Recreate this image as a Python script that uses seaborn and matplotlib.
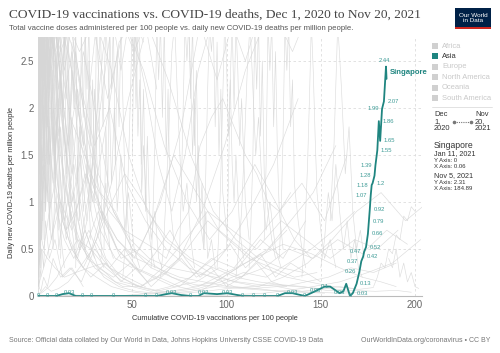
import numpy as np
import pandas as pd
import seaborn as sns
import matplotlib.pyplot as plt
from matplotlib.patches import Rectangle

# --------------------------------------
# Singapore (highlighted country)
# --------------------------------------
sg_x = [0.06, 4.8, 9.6, 13, 16.5, 20, 23.4, 28.2, 40, 57, 63, 68, 71, 76, 81, 85, 88, 95,
        100.5, 108.5, 114, 120, 127, 131, 135, 141.5, 147, 150, 152, 155, 160, 162, 163.5,
        165.5, 167, 169, 170.5, 171.5, 172.5, 173, 174, 175, 175.5, 176, 176.5, 177, 177.5,
        178.5, 179, 180, 180.8, 181.5, 182.5, 183.5, 184.6, 184.89]
sg_y = [0, 0, 0, 0.02, 0.03, 0, 0, 0, 0, 0, 0, 0.02, 0.03, 0.01, 0, 0, 0.03, 0.02,
        0.03, 0, 0, 0, 0, 0.03, 0.03, 0, 0.05, 0.08, 0.1, 0.1, 0.03, 0.05, 0.13,
        0, 0.03, 0.13, 0.26, 0.37, 0.42, 0.47, 0.52, 0.66, 0.79, 0.92, 1.07, 1.18, 1.2,
        1.28, 1.39, 1.55, 1.86, 1.65, 1.99, 2.07, 2.44, 2.31]
# where each value label goes (c = on line, l = left, r = right, t = top, "" = none)
sg_label_side = ["c", "c", "c", "", "c", "", "c", "c", "c", "c", "c", "", "c", "", "c", "", "c", "",
                 "c", "c", "c", "c", "c", "", "c", "c", "c", "", "c", "", "c", "", "",
                 "c", "r", "r", "l", "l", "r", "l", "r", "r", "r", "r", "l", "l", "r",
                 "l", "l", "r", "r", "r", "l", "r", "t", ""]

# --------------------------------------
# Other countries (grey background lines), grouped by region
# --------------------------------------
africa_x = [
    [0, 0.2, 0.5, 0.8, 1.2, 1.8, 2.5, 3.5, 5, 7, 10, 14],
    [0, 0.3, 0.6, 1, 1.5, 2, 3, 4, 6, 9, 13, 18, 24],
    [0, 0.4, 1, 1.6, 2.4, 3.4, 4.6, 6, 8, 11, 15, 20, 27, 35],
    [0, 1, 2, 3, 5, 7, 10, 14, 19, 25, 32, 40],
    [0, 0.5, 1.5, 3, 5, 8, 12, 17, 23, 30, 38, 47, 57],
    [0, 0.2, 0.4, 0.7, 1, 1.4, 1.9, 2.5, 3.2, 4, 5, 6.2, 7.5, 9, 11],
    [0, 0.3, 0.6, 0.9, 1.3, 1.8, 2.4, 3.1, 4, 5, 6.5, 8, 10, 12.5, 15, 18],
]
africa_y = [
    [0.1, 0.4, 0.2, 0.9, 0.5, 1.6, 0.8, 2.9, 1.2, 0.6, 1.0, 0.3],
    [0.0, 0.2, 0.1, 0.3, 0.2, 0.5, 0.3, 0.8, 0.4, 0.6, 0.2, 0.3, 0.1],
    [2.9, 1.4, 2.8, 0.9, 2.1, 1.3, 2.9, 0.7, 1.8, 0.5, 1.2, 0.4, 0.7, 0.3],
    [0.3, 1.1, 0.6, 2.0, 1.0, 2.9, 1.7, 0.8, 1.4, 0.5, 0.9, 0.4],
    [0.0, 0.1, 0.05, 0.2, 0.1, 0.4, 0.2, 0.3, 0.15, 0.5, 0.3, 0.2, 0.1],
    [1.8, 0.4, 2.9, 1.1, 2.5, 0.3, 2.9, 1.7, 0.6, 2.2, 2.9, 0.9, 2.4, 1.3, 2.9],
    [0.6, 2.9, 1.9, 2.9, 0.8, 1.6, 2.9, 2.1, 1.0, 2.7, 1.4, 0.5, 1.9, 1.0, 0.6, 0.9],
]

europe_x = [
    [0, 0.5, 1.5, 3, 5, 7, 9, 12, 15, 19, 24, 30, 37, 45, 54, 64, 75, 87, 100, 112, 125, 138],
    [0, 1, 2, 4, 6, 9, 13, 18, 24, 31, 40, 50, 60, 71, 82, 94, 106, 118, 130, 142],
    [0, 2, 4, 7, 10, 14, 18, 23, 29, 36, 44, 53, 63, 74, 86, 98, 110, 122, 134, 146, 158],
    [0, 1, 2, 3, 5, 7, 10, 13, 17, 21, 26, 31, 36, 40, 44, 48, 52, 56],
    [0, 0.5, 1, 2, 3, 4, 6, 8, 11, 14, 18, 22, 27, 33, 39, 45, 51, 57, 63],
    [0, 1, 3, 5, 8, 11, 15, 20, 26, 33, 41, 50, 60, 70, 81, 92, 104, 116, 128, 140, 152, 164],
    [0, 0.5, 1, 2, 4, 6, 9, 12, 16, 21, 27, 34, 42, 51, 61, 72, 84, 96, 108, 120, 132],
    [0, 2, 5, 8, 12, 17, 22, 28, 35, 43, 52, 62, 73, 85, 97, 109, 121, 133, 145, 157, 168],
    [0, 1, 2, 3, 5, 7, 10, 14, 18, 23, 29, 36, 43, 50, 57, 64, 71, 78, 85, 92],
    [0, 1, 3, 6, 9, 13, 18, 24, 31, 39, 48, 58, 69, 81, 94, 107, 120, 133, 146, 159, 172, 185, 196],
    [0, 0.5, 1, 1.5, 2.5, 3.5, 5, 6.5, 8.5, 11, 14, 17, 21, 25, 30],
    [0, 3, 7, 12, 18, 25, 33, 42, 52, 63, 75, 87, 99, 110, 120, 128, 135, 141],
    [0, 2, 5, 9, 14, 20, 27, 35, 44, 54, 65, 76, 86, 95, 103, 110, 116],
]
europe_y = [
    [2.9, 2.2, 2.9, 1.6, 2.9, 2.0, 1.2, 1.8, 0.7, 1.1, 0.5, 0.3, 0.2, 0.1, 0.1, 0.2, 0.1, 0.3, 0.5, 0.9, 1.4, 2.1],
    [2.8, 1.9, 2.9, 2.3, 1.4, 2.9, 2.1, 1.3, 2.6, 1.9, 0.9, 0.5, 0.3, 0.2, 0.1, 0.15, 0.3, 0.6, 0.4, 0.8],
    [1.5, 2.1, 2.9, 2.4, 2.9, 1.7, 1.0, 1.5, 0.8, 0.4, 0.2, 0.1, 0.05, 0.1, 0.05, 0.2, 0.35, 0.5, 0.8, 1.1, 1.6],
    [1.2, 2.0, 2.9, 2.5, 1.8, 2.9, 2.2, 1.3, 0.6, 0.4, 0.8, 1.9, 2.9, 2.9, 2.4, 2.9, 2.9, 2.7],
    [0.5, 0.9, 1.6, 2.4, 2.9, 2.9, 2.2, 2.9, 1.9, 1.2, 0.8, 0.5, 1.1, 2.0, 2.9, 2.9, 2.6, 2.9, 2.2],
    [2.2, 2.9, 2.5, 2.9, 1.8, 1.1, 0.7, 0.9, 0.4, 0.3, 0.15, 0.1, 0.05, 0.1, 0.2, 0.4, 0.3, 0.6, 0.9, 1.2, 0.8, 1.5],
    [1.0, 1.8, 2.7, 2.9, 2.1, 2.9, 1.5, 2.3, 1.2, 0.6, 0.4, 0.9, 0.5, 0.3, 0.2, 0.1, 0.15, 0.3, 0.2, 0.45, 0.7],
    [0.8, 1.4, 1.1, 2.0, 1.5, 0.9, 0.6, 0.4, 0.2, 0.1, 0.05, 0.03, 0.05, 0.08, 0.15, 0.25, 0.2, 0.35, 0.5, 0.7, 0.9],
    [0.3, 0.6, 1.0, 1.9, 2.6, 2.9, 2.9, 2.4, 2.9, 1.6, 1.0, 1.8, 2.7, 2.9, 2.2, 1.4, 0.9, 1.5, 2.4, 2.9],
    [0.4, 0.7, 0.5, 0.9, 1.2, 0.8, 0.5, 0.3, 0.2, 0.1, 0.05, 0.02, 0.03, 0.05, 0.1, 0.2, 0.3, 0.5, 0.4, 0.6, 0.45, 0.7, 0.55],
    [2.9, 1.6, 2.9, 2.9, 2.2, 2.9, 1.4, 2.9, 2.5, 1.7, 2.9, 2.0, 1.2, 0.7, 0.4],
    [0.6, 1.2, 2.0, 2.9, 2.4, 1.5, 0.9, 0.5, 0.3, 0.2, 0.4, 0.9, 1.6, 2.4, 2.9, 2.9, 2.6, 2.9],
    [1.1, 1.9, 2.9, 2.6, 2.9, 2.1, 1.4, 0.8, 0.4, 0.5, 1.0, 1.8, 2.9, 2.3, 2.9, 2.5, 2.9],
]

north_america_x = [
    [0, 1, 3, 5, 8, 12, 17, 23, 30, 38, 46, 54, 62, 68, 74, 80, 86, 92, 98, 104, 110, 116, 122, 128, 134],
    [0, 0.5, 1, 2, 3, 5, 7, 10, 14, 19, 25, 32, 40, 49, 58, 68, 79, 90, 101, 112, 124, 136, 148],
    [0, 0.5, 1, 1.5, 2, 3, 4, 6, 8, 11, 15, 20, 26, 33, 41, 50],
    [0, 2, 5, 9, 14, 20, 27, 35, 44, 54, 65, 77, 89, 101, 113, 125, 137, 149, 160, 170, 178],
]
north_america_y = [
    [0.8, 1.2, 1.6, 2.3, 2.9, 2.5, 1.9, 1.6, 1.2, 0.9, 0.7, 0.6, 0.5, 0.4, 0.7, 0.9, 1.6, 1.9, 2.1, 1.8, 1.5, 1.3, 1.0, 0.9, 1.1],
    [1.0, 1.7, 2.9, 2.4, 2.9, 2.0, 1.4, 0.9, 0.6, 0.4, 0.7, 0.3, 0.2, 0.35, 0.15, 0.25, 0.5, 0.8, 0.6, 0.4, 0.3, 0.2, 0.25],
    [0.2, 0.5, 0.3, 1.0, 0.6, 1.4, 0.9, 1.8, 1.2, 2.1, 1.5, 0.9, 1.3, 0.7, 0.4, 0.3],
    [0.3, 0.5, 0.4, 0.3, 0.2, 0.25, 0.3, 0.35, 0.2, 0.1, 0.05, 0.03, 0.05, 0.08, 0.1, 0.12, 0.1, 0.08, 0.1, 0.07, 0.09],
]

south_america_x = [
    [0, 0.5, 1, 2, 3, 5, 8, 12, 17, 23, 30, 38, 47, 57, 68, 80, 92, 104, 116, 128, 140, 152],
    [0, 1, 2, 4, 6, 9, 13, 18, 24, 31, 39, 48, 58, 69, 81, 93, 105, 117, 129, 141, 153, 165],
    [0, 0.5, 1.5, 3, 5, 8, 11, 15, 20, 26, 33, 41, 50, 60, 71, 83, 95, 108, 121, 134, 147, 160, 173],
    [0, 1, 2, 3, 5, 7, 10, 14, 19, 25, 32, 40, 49, 59, 70, 82, 94, 106, 118, 130, 142, 154, 166, 178, 190],
    [0, 3, 7, 12, 18, 25, 33, 42, 52, 63, 75, 88, 101, 114, 127, 140, 153, 166, 179, 190, 198],
    [0, 1, 2, 4, 7, 11, 16, 22, 29, 37, 46, 56, 67, 79, 91, 103, 115, 126, 136, 145],
]
south_america_y = [
    [1.5, 2.1, 2.9, 2.9, 2.3, 2.9, 2.9, 2.6, 2.9, 2.2, 1.6, 2.0, 1.2, 0.8, 0.5, 0.3, 0.2, 0.1, 0.08, 0.05, 0.04, 0.03],
    [0.9, 1.4, 2.1, 2.9, 2.4, 2.9, 2.0, 2.6, 1.6, 2.9, 2.4, 1.5, 0.9, 0.6, 0.4, 0.3, 0.2, 0.15, 0.12, 0.1, 0.06, 0.05],
    [2.9, 2.3, 2.9, 2.5, 1.8, 2.9, 2.2, 1.5, 2.6, 1.7, 1.1, 0.9, 0.5, 0.35, 0.2, 0.12, 0.1, 0.08, 0.06, 0.05, 0.04, 0.03, 0.04],
    [0.2, 0.4, 0.8, 1.5, 2.2, 2.9, 2.4, 2.9, 2.6, 1.9, 1.3, 0.9, 0.6, 0.4, 0.3, 0.25, 0.2, 0.15, 0.12, 0.1, 0.15, 0.2, 0.3, 0.25, 0.35],
    [0.1, 0.3, 0.6, 1.0, 0.7, 1.3, 0.9, 0.6, 0.4, 0.3, 0.2, 0.15, 0.1, 0.08, 0.1, 0.05, 0.08, 0.06, 0.05, 0.06, 0.04],
    [1.2, 2.0, 2.9, 2.5, 2.9, 2.2, 2.9, 2.6, 2.9, 2.1, 2.9, 2.4, 1.6, 1.0, 0.6, 0.9, 1.4, 1.0, 0.6, 0.4],
]

oceania_x = [
    [0, 5, 12, 20, 30, 42, 55, 70, 85, 100, 115, 130, 145, 160, 172, 182, 190],
    [0, 10, 25, 40, 60, 80, 100, 120, 140, 160, 175, 188, 197, 203],
]
oceania_y = [
    [0.0, 0.0, 0.0, 0.01, 0.0, 0.0, 0.02, 0.05, 0.1, 0.25, 0.4, 0.55, 0.45, 0.3, 0.2, 0.15, 0.1],
    [0, 0, 0, 0, 0, 0, 0.01, 0.03, 0.08, 0.15, 0.25, 0.35, 0.5, 0.6],
]

asia_x = [
    [0, 0.3, 0.8, 1.5, 2.5, 4, 6, 9, 13, 18, 24, 31, 39, 48, 58, 69, 81, 93, 105, 117, 129, 141],
    [0, 1, 3, 6, 10, 15, 21, 28, 36, 45, 55, 66, 78, 90, 103, 116, 129, 142, 155, 168, 180, 191],
    [0, 1, 2, 4, 6, 9, 12, 16, 21, 27, 34, 42, 51, 61, 72, 84, 96, 108, 120, 132, 144, 156, 168],
    [0, 2, 4, 7, 11, 16, 22, 29, 37, 46, 56, 67, 79, 91, 104, 117, 130, 143, 156, 169, 182, 195, 204],
    [0, 0.3, 0.6, 1, 1.5, 2, 3, 4, 5.5, 7, 9, 12],
    [0, 0.5, 1, 1.6, 2.3, 3, 4, 5, 6.5, 8, 10, 12.5, 15, 18, 22, 26],
]
asia_y = [
    [0.1, 0.3, 0.8, 1.4, 2.0, 2.9, 2.2, 1.4, 0.8, 0.5, 0.3, 0.6, 1.2, 2.1, 2.9, 2.3, 1.5, 0.9, 0.6, 0.4, 0.3, 0.25],
    [0.0, 0.02, 0.05, 0.1, 0.2, 0.4, 0.6, 0.5, 0.3, 0.15, 0.1, 0.3, 0.6, 0.9, 0.7, 0.5, 0.8, 0.6, 0.4, 0.6, 0.5, 0.7],
    [0.5, 0.9, 1.4, 2.0, 2.6, 2.9, 2.3, 1.6, 2.2, 1.3, 0.9, 0.6, 0.4, 0.8, 1.5, 1.1, 0.7, 0.5, 0.3, 0.2, 0.15, 0.1, 0.08],
    [0.02, 0.05, 0.1, 0.05, 0.08, 0.15, 0.3, 0.5, 0.9, 1.3, 1.0, 0.6, 0.4, 0.25, 0.15, 0.1, 0.2, 0.35, 0.6, 0.9, 1.1, 0.8, 0.95],
    [2.9, 2.0, 2.9, 1.5, 2.6, 2.9, 1.8, 2.9, 2.2, 2.9, 1.6, 2.4],
    [2.5, 2.9, 1.3, 2.9, 2.0, 2.9, 0.9, 2.3, 2.9, 1.5, 2.9, 2.0, 1.2, 2.4, 1.5, 0.8],
]

# countries whose records start later in the period (mostly Europe)
later_x = [
    [20, 21, 22, 23, 24, 25, 26, 27, 28, 30, 32, 34],
    [35, 36, 37, 38, 39, 40, 41, 42, 43, 44, 46, 48, 50],
    [45, 46.5, 48, 49, 50, 51, 52, 53, 54, 55, 56, 58, 60, 62],
    [60, 61, 62, 63, 64, 65, 66, 67, 68, 69, 70, 72],
    [75, 76, 77, 78, 79, 80, 81, 82, 83, 84, 85, 86, 88],
    [88, 89, 90, 91, 92, 93, 94, 95, 96, 97, 98, 100],
    [100, 101, 102, 103, 104, 105, 106, 107, 108, 110, 112],
    [112, 113, 114, 115, 116, 117, 118, 119, 120, 122, 124, 126],
    [120, 121, 122, 123, 124, 125, 126, 127, 128, 130],
    [8, 9, 10, 11, 12, 13, 14, 15, 16, 17, 18, 19, 20],
    [12, 13, 14, 15, 16, 17, 18, 19, 20, 21, 22, 24, 26, 28],
    [25, 26, 27, 28, 29, 30, 31, 32, 33, 34, 36, 38],
    [30, 31.5, 33, 34.5, 36, 37.5, 39, 40.5, 42, 44, 46, 48, 51, 54],
    [50, 51, 52, 53, 54, 55, 56, 57, 58, 59, 60, 62, 64, 66],
    [65, 66.5, 68, 69.5, 71, 72.5, 74, 75.5, 77, 79, 81, 83],
    [80, 81, 82, 83, 84, 85, 86, 87, 88, 89, 90, 92, 94],
    [95, 96, 97, 98, 99, 100, 101, 102, 103, 104, 105, 107, 109],
    [105, 106.5, 108, 109.5, 111, 112.5, 114, 115.5, 117, 119, 121, 123, 126, 129],
    [128, 129, 130, 131, 132, 133, 134, 135, 136, 138, 140, 142],
    [140, 141, 142, 143, 144, 145, 146, 147, 148, 150, 152, 155, 158],
    [150, 152, 154, 156, 158, 160, 162, 164, 166, 168, 170, 172],
    [155, 157, 159, 161, 163, 165, 167, 169, 171, 173],
    [178, 180, 182, 184, 186, 188, 190, 192, 194, 196, 198, 200],
    [186, 188, 190, 192, 194, 196, 198, 200, 202],
    [20, 28, 36, 44, 52, 60, 68, 76, 84, 92, 100, 108, 116, 124, 132],
    [30, 38, 46, 54, 62, 70, 78, 86, 94, 102, 110, 118, 126, 134, 142, 150],
]
later_y = [
    [0.3, 1.5, 0.8, 2.9, 1.9, 2.9, 1.2, 2.5, 0.9, 2.2, 1.0, 0.4],
    [0.5, 1.8, 1.1, 2.9, 2.2, 2.9, 1.4, 2.6, 1.8, 2.9, 1.3, 0.7, 0.4],
    [0.2, 0.6, 1.4, 2.1, 2.9, 2.4, 2.9, 1.7, 2.3, 1.1, 1.6, 0.8, 0.5, 0.3],
    [0.3, 0.9, 1.6, 2.9, 2.3, 2.9, 1.9, 2.9, 1.5, 2.2, 1.0, 0.6],
    [0.4, 1.1, 2.0, 2.9, 2.5, 2.9, 2.1, 2.9, 1.6, 2.4, 1.3, 0.8, 0.5],
    [0.6, 1.3, 2.2, 2.9, 2.6, 2.9, 1.8, 2.7, 1.5, 2.2, 1.1, 0.7],
    [0.5, 1.2, 2.3, 2.9, 2.0, 2.9, 2.4, 1.6, 2.1, 1.0, 0.6],
    [0.3, 0.8, 1.5, 2.9, 2.2, 2.9, 1.7, 2.5, 1.3, 0.9, 0.6, 0.4],
    [0.6, 1.4, 2.9, 2.4, 2.9, 1.8, 2.6, 1.5, 0.9, 0.5],
    [2.9, 1.2, 2.6, 0.7, 2.9, 1.9, 2.9, 1.3, 2.4, 0.8, 1.9, 1.1, 0.6],
    [0.4, 1.3, 2.9, 2.1, 2.9, 1.4, 2.7, 2.0, 2.9, 1.2, 1.8, 0.9, 1.4, 0.6],
    [2.9, 2.2, 2.9, 1.6, 2.3, 1.1, 2.9, 2.4, 1.3, 0.8, 1.2, 0.5],
    [1.0, 2.1, 2.9, 1.8, 2.9, 2.3, 1.2, 2.0, 0.9, 1.5, 0.7, 1.1, 0.5, 0.3],
    [1.5, 2.9, 2.0, 2.9, 2.6, 1.4, 2.2, 0.9, 1.7, 1.0, 0.6, 0.9, 0.4, 0.3],
    [0.2, 0.5, 1.1, 1.8, 2.6, 2.9, 2.1, 1.4, 0.9, 1.2, 0.6, 0.3],
    [2.9, 2.3, 1.5, 2.1, 1.0, 1.6, 0.8, 1.2, 0.5, 0.9, 0.4, 0.6, 0.3],
    [0.3, 0.7, 1.3, 2.1, 2.9, 2.5, 1.7, 2.3, 1.4, 1.0, 1.5, 0.7, 0.4],
    [0.2, 0.5, 0.9, 1.6, 2.4, 2.9, 2.2, 1.5, 1.9, 1.1, 0.7, 1.0, 0.5, 0.3],
    [0.4, 0.9, 1.7, 2.9, 2.4, 2.9, 1.8, 2.3, 1.2, 0.8, 0.5, 0.3],
    [0.2, 0.5, 0.9, 1.4, 2.1, 2.9, 2.4, 1.7, 1.1, 0.7, 0.4, 0.6, 0.3],
    [0.3, 0.6, 1.1, 0.8, 1.4, 0.9, 0.5, 0.8, 0.4, 0.6, 0.3, 0.2],
    [0.8, 1.6, 2.9, 2.2, 1.3, 1.8, 0.9, 0.5, 0.7, 0.4],
    [0.1, 0.2, 0.35, 0.3, 0.5, 0.45, 0.65, 0.6, 0.85, 0.8, 0.95, 0.9],
    [0.4, 0.3, 0.5, 0.2, 0.35, 0.15, 0.25, 0.1, 0.08],
    [0.4, 0.2, 0.35, 0.15, 0.3, 0.1, 0.25, 0.4, 0.2, 0.3, 0.1, 0.2, 0.35, 0.15, 0.1],
    [0.6, 0.3, 0.5, 0.25, 0.45, 0.7, 0.4, 0.2, 0.35, 0.55, 0.3, 0.45, 0.2, 0.35, 0.25, 0.15],
]

legend_regions = ["Africa", "Asia", "Europe", "North America", "Oceania", "South America"]
y_ticks = [0, 0.5, 1, 1.5, 2, 2.5]
y_tick_labels = ["0", "0.5", "1", "1.5", "2", "2.5"]
x_ticks = [50, 100, 150, 200]

# --------------------------------------
# Build long-form tables
# --------------------------------------
groups = {
    "Africa": (africa_x, africa_y),
    "Europe": (europe_x, europe_y),
    "North America": (north_america_x, north_america_y),
    "South America": (south_america_x, south_america_y),
    "Oceania": (oceania_x, oceania_y),
    "Asia": (asia_x, asia_y),
    "Later": (later_x, later_y),
}
rows = []
for region, (xs, ys) in groups.items():
    for i, (cx, cy) in enumerate(zip(xs, ys)):
        for a, b in zip(cx, cy):
            rows.append((f"{region}_{i}", region, a, b))
bg = pd.DataFrame(rows, columns=["country", "region", "vax", "deaths"])
sg = pd.DataFrame({"vax": sg_x, "deaths": sg_y})

# --------------------------------------
# Plot
# --------------------------------------
sns.set_style("white")
plt.rcParams["font.family"] = ["Liberation Sans", "DejaVu Sans"]

TEAL = "#1f8580"
LABEL_TEAL = "#3f9c97"

fig = plt.figure(figsize=(5, 3.53), dpi=100)
W, H = 500, 353


def fx(px):
    return px / W


def fy(py):
    return 1 - py / H


ax = fig.add_axes([38 / W, 1 - 296 / H, 384 / W, 259 / H])

sns.lineplot(data=bg, x="vax", y="deaths", units="country", estimator=None, sort=False,
             color="#d6d6d6", lw=0.45, alpha=0.85, ax=ax, legend=False)
sns.lineplot(data=sg, x="vax", y="deaths", estimator=None, sort=False,
             color=TEAL, lw=1.3, ax=ax, legend=False)

# value labels along Singapore's line
offsets = {"c": ((0, 0.3), "center", "center"), "l": ((-2.5, 0), "right", "center"),
           "r": ((2.5, 0), "left", "center"), "t": ((-1, 2.5), "center", "bottom")}
for xv, yv, side in zip(sg_x, sg_y, sg_label_side):
    if not side:
        continue
    off, ha, va = offsets[side]
    ax.annotate(f"{yv:g}", (xv, yv), xytext=off, textcoords="offset points",
                ha=ha, va=va, fontsize=4.2, color=LABEL_TEAL)
ax.annotate("Singapore", (sg_x[-1], sg_y[-1]), xytext=(2, 2), textcoords="offset points",
            ha="left", va="bottom", fontsize=5.6, fontweight="bold", color=TEAL)

ax.set_xlim(0, 203.7)
ax.set_ylim(0, 2.755)
ax.set_yticks(y_ticks)
ax.set_yticklabels(y_tick_labels)
ax.set_xticks(x_ticks)
ax.tick_params(axis="both", length=0, labelsize=7, colors="#666666", pad=3)
ax.grid(True, color="#dddddd", lw=0.6, ls=(0, (3, 3)))
ax.set_axisbelow(True)
for s in ["top", "right", "left"]:
    ax.spines[s].set_visible(False)
ax.spines["bottom"].set_color("#bbbbbb")
ax.spines["bottom"].set_linewidth(0.8)
ax.set_xlabel("")
ax.set_ylabel("")

# axis titles
fig.text(fx(215), fy(318), "Cumulative COVID-19 vaccinations per 100 people",
         ha="center", va="center", fontsize=5.3, color="#333333")
fig.text(fx(12), fy(182), "Daily new COVID-19 deaths per million people",
         ha="center", va="center", rotation=90, fontsize=5.3, color="#333333")

# title / subtitle
fig.text(fx(9), fy(15), "COVID-19 vaccinations vs. COVID-19 deaths, Dec 1, 2020 to Nov 20, 2021",
         ha="left", va="center", fontsize=9.6, color="#444444", family="Liberation Serif")
fig.text(fx(9), fy(28), "Total vaccine doses administered per 100 people vs. daily new COVID-19 deaths per million people.",
         ha="left", va="center", fontsize=5.6, color="#555555")

# logo
fig.patches.append(Rectangle((fx(455), fy(29)), 36 / W, 21 / H, transform=fig.transFigure,
                             facecolor="#002147", edgecolor="none"))
fig.patches.append(Rectangle((fx(455), fy(29)), 36 / W, 1.6 / H, transform=fig.transFigure,
                             facecolor="#ce261e", edgecolor="none"))
fig.text(fx(473), fy(18), "Our World\nin Data", ha="center", va="center", fontsize=4.6,
         color="white", linespacing=1.1)

# footer
fig.text(fx(9), fy(341), "Source: Official data collated by Our World in Data, Johns Hopkins University CSSE COVID-19 Data",
         ha="left", va="center", fontsize=5.0, color="#777777")
fig.text(fx(490), fy(341), "OurWorldInData.org/coronavirus • CC BY",
         ha="right", va="center", fontsize=5.0, color="#777777")

# region legend
for i, region in enumerate(legend_regions):
    yy = 46 + i * 10.4
    active = region == "Asia"
    fig.patches.append(Rectangle((fx(432), fy(yy + 3)), 6 / W, 6 / H, transform=fig.transFigure,
                                 facecolor=TEAL if active else "#d0d0d0", edgecolor="none"))
    fig.text(fx(442), fy(yy), region, ha="left", va="center", fontsize=5.4,
             color="#333333" if active else "#c8c8c8")

fig.add_artist(plt.Line2D([fx(432), fx(492)], [fy(107), fy(107)], transform=fig.transFigure,
                          color="#dddddd", lw=0.6))

# timeline
fig.text(fx(434), fy(122), "Dec\n1,\n2020", ha="left", va="center", fontsize=5.4,
         color="#333333", linespacing=1.0)
fig.text(fx(475), fy(122), "Nov\n20,\n2021", ha="left", va="center", fontsize=5.4,
         color="#333333", linespacing=1.0)
fig.add_artist(plt.Line2D([fx(454), fx(471)], [fy(122), fy(122)], transform=fig.transFigure,
                          color="#777777", lw=0.8, ls=(0, (1, 1))))
fig.add_artist(plt.Line2D([fx(454), fx(471)], [fy(122), fy(122)], transform=fig.transFigure,
                          color="#777777", lw=0, marker="o", markersize=1.6))

# hover info
fig.text(fx(434), fy(145), "Singapore", ha="left", va="center", fontsize=6.2, color="#333333")
fig.text(fx(434), fy(154), "Jan 11, 2021", ha="left", va="center", fontsize=5.2, color="#333333")
fig.text(fx(434), fy(160), "Y Axis: 0", ha="left", va="center", fontsize=4.3, color="#333333")
fig.text(fx(434), fy(166), "X Axis: 0.06", ha="left", va="center", fontsize=4.3, color="#333333")
fig.text(fx(434), fy(176), "Nov 5, 2021", ha="left", va="center", fontsize=5.2, color="#333333")
fig.text(fx(434), fy(182), "Y Axis: 2.31", ha="left", va="center", fontsize=4.3, color="#333333")
fig.text(fx(434), fy(188), "X Axis: 184.89", ha="left", va="center", fontsize=4.3, color="#333333")

fig.savefig("out.png", dpi=100)
